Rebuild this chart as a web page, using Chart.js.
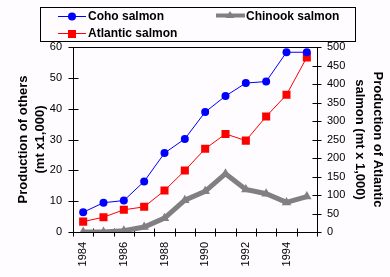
<!DOCTYPE html>
<html><head><meta charset="utf-8">
<script src="https://cdn.jsdelivr.net/npm/chart.js@4"></script>
<style>html,body{margin:0;padding:0;background:#fefcfe;overflow:hidden}</style>
</head><body>
<canvas id="c" width="390" height="277" style="display:block;width:390px;height:277px"></canvas>
<script>
const years = ['1984','1985','1986','1987','1988','1989','1990','1991','1992','1993','1994','1995'];
const cohoSalmon = [6.4, 9.5, 10.2, 16.4, 25.6, 30.2, 38.9, 44.1, 48.3, 48.8, 58.3, 58.3];
const atlanticSalmon = [28, 40, 60, 68, 112, 166, 225, 265, 247, 312, 371, 472];
const chinookSalmon = [0, 0, 0.4, 1.6, 4.5, 10.3, 13.2, 18.9, 13.8, 12.4, 9.6, 11.5];
const leftAxisTitle = ['Production of others', '(mt x1,000)'];
const rightAxisTitle = ['Production of Atlantic', 'salmon (mt x 1,000)'];
const legendNames = ['Coho salmon', 'Chinook salmon', 'Atlantic salmon'];

const BG = '#fefcfe';
const tickFont = {family: '"Liberation Sans", Arial, sans-serif', size: 11};
const titleFont = {family: '"Liberation Sans", Arial, sans-serif', size: 13, weight: 'bold'};

const framePlugin = {
  id: 'frame',
  beforeDraw(chart) {
    const ctx = chart.ctx;
    ctx.save();
    ctx.fillStyle = BG;
    ctx.fillRect(0, 0, chart.width, chart.height);
    ctx.restore();
  },
  beforeDatasetsDraw(chart) {
    const ctx = chart.ctx, a = chart.chartArea;
    const L = Math.round(a.left) + 0.5, R = Math.round(a.right) + 0.5;
    const T = Math.round(a.top) + 0.5, B = Math.round(a.bottom) + 0.5;
    ctx.save();
    ctx.strokeStyle = '#000';
    ctx.lineWidth = 1;
    ctx.beginPath();
    ctx.rect(L, T, R - L, B - T);
    const yl = chart.scales.y, yr = chart.scales.y2, x = chart.scales.x;
    yl.ticks.forEach(t => { const p = Math.round(yl.getPixelForValue(t.value)) + 0.5; ctx.moveTo(L - 5, p); ctx.lineTo(L + 5, p); });
    yr.ticks.forEach(t => { const p = Math.round(yr.getPixelForValue(t.value)) + 0.5; ctx.moveTo(R - 5, p); ctx.lineTo(R + 4, p); });
    for (let i = 0; i <= years.length; i++) {
      const p = Math.round(x.getPixelForValue(i - 0.5)) + 0.5;
      ctx.moveTo(p, B - 4); ctx.lineTo(p, B + 4);
    }
    ctx.stroke();
    ctx.restore();
  }
};

const legendPlugin = {
  id: 'customLegend',
  afterDraw(chart) {
    const ctx = chart.ctx;
    ctx.save();
    ctx.fillStyle = BG;
    ctx.fillRect(41, 7, 314, 34);
    ctx.strokeStyle = '#000';
    ctx.lineWidth = 1;
    ctx.strokeRect(40.5, 7.5, 315, 34);
    ctx.font = 'bold 12px "Liberation Sans", Arial, sans-serif';
    ctx.textBaseline = 'middle';
    ctx.textAlign = 'left';
    // Coho
    ctx.strokeStyle = '#0000ff'; ctx.fillStyle = '#0000ff';
    ctx.beginPath(); ctx.moveTo(58, 16.5); ctx.lineTo(86, 16.5); ctx.stroke();
    ctx.beginPath(); ctx.arc(72, 16.5, 4, 0, Math.PI * 2); ctx.fill();
    // Atlantic
    ctx.strokeStyle = '#ff0000'; ctx.fillStyle = '#ff0000';
    ctx.beginPath(); ctx.moveTo(58, 33.5); ctx.lineTo(86, 33.5); ctx.stroke();
    ctx.fillRect(68, 30, 8, 8);
    // Chinook
    ctx.strokeStyle = '#808080'; ctx.fillStyle = '#808080';
    ctx.lineWidth = 4;
    ctx.beginPath(); ctx.moveTo(216, 15.5); ctx.lineTo(245, 15.5); ctx.stroke();
    ctx.beginPath(); ctx.moveTo(230, 11); ctx.lineTo(234.5, 18); ctx.lineTo(225.5, 18); ctx.closePath(); ctx.fill();
    ctx.fillStyle = '#000';
    ctx.fillText(legendNames[0], 88, 17);
    ctx.fillText(legendNames[1], 246, 17);
    ctx.fillText(legendNames[2], 88, 34);
    ctx.restore();
  }
};

new Chart(document.getElementById('c'), {
  type: 'line',
  data: {
    labels: years,
    datasets: [
      {label: legendNames[0], data: cohoSalmon, yAxisID: 'y', borderColor: '#0000ff', backgroundColor: '#0000ff',
       borderWidth: 1, pointStyle: 'circle', pointRadius: 4, pointBorderWidth: 0, order: 0, tension: 0},
      {label: legendNames[2], data: atlanticSalmon, yAxisID: 'y2', borderColor: '#ff0000', backgroundColor: '#ff0000',
       borderWidth: 1, pointStyle: 'rect', pointRadius: 5.7, pointBorderWidth: 0, order: 1, tension: 0},
      {label: legendNames[1], data: chinookSalmon, yAxisID: 'y', borderColor: '#808080', backgroundColor: '#808080',
       borderWidth: 5, pointStyle: 'triangle', pointRadius: 5.5, pointBorderWidth: 0, order: 2, tension: 0}
    ]
  },
  options: {
    responsive: false,
    animation: false,
    devicePixelRatio: 1,
    layout: {padding: {top: 47, left: 0, right: 0, bottom: 0}},
    plugins: {legend: {display: false}, tooltip: {enabled: false}},
    scales: {
      x: {
        type: 'category', offset: true,
        grid: {display: false, drawTicks: false}, border: {display: false},
        ticks: {autoSkip: false, minRotation: 90, maxRotation: 90, padding: 10, color: '#000', font: tickFont,
                callback: (v, i) => (parseInt(years[i]) % 2 === 0 ? years[i] : '')},
        afterFit: s => { s.height = 45; }
      },
      y: {
        position: 'left', min: 0, max: 60,
        grid: {display: false, drawTicks: false}, border: {display: false},
        ticks: {stepSize: 10, padding: 11, color: '#000', font: tickFont},
        title: {display: true, text: leftAxisTitle, color: '#000', font: Object.assign({lineHeight: 1.3}, titleFont), padding: {top: 15, bottom: 0}},
        afterFit: s => { s.width = 73; }
      },
      y2: {
        position: 'right', min: 0, max: 500,
        grid: {display: false, drawTicks: false}, border: {display: false},
        ticks: {stepSize: 50, padding: 10, color: '#000', font: tickFont},
        title: {display: true, text: rightAxisTitle, color: '#000', font: Object.assign({lineHeight: 1.35}, titleFont), padding: {top: 4, bottom: 0}},
        afterFit: s => { s.width = 73; }
      }
    }
  },
  plugins: [framePlugin, legendPlugin]
});
</script>
</body></html>
